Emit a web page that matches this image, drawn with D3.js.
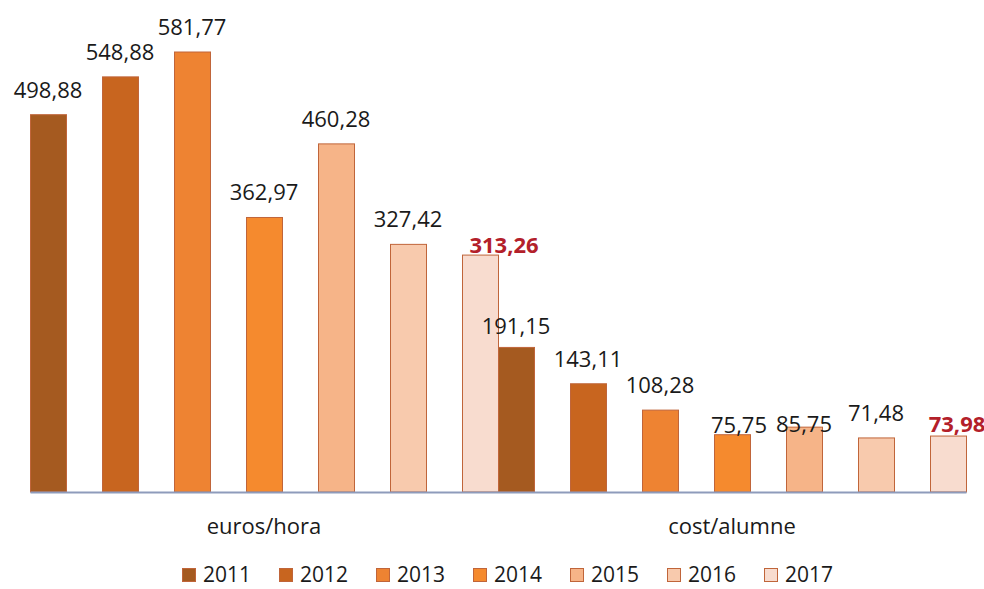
<!DOCTYPE html>
<html><head><meta charset="utf-8">
<script src="https://cdn.jsdelivr.net/npm/d3@7"></script>
<style>body{margin:0;background:#fff}svg{display:block}</style>
</head><body>
<svg id="c" width="984" height="589"></svg>
<script>
const categories = ["euros/hora", "cost/alumne"];
const years = ["2011","2012","2013","2014","2015","2016","2017"];
const valuesEurosHora = [498.88, 548.88, 581.77, 362.97, 460.28, 327.42, 313.26];
const valuesCostAlumne = [191.15, 143.11, 108.28, 75.75, 85.75, 71.48, 73.98];
const colors = ["#a55a20","#c8651f","#ee8332","#f58a2e","#f6b488","#f8caad","#f8dccf"];
// label nudges (layout, not data): [dx, dy] relative to default placement
const labelNudgeEuros = [[0,0],[0,0],[0,0],[0,0],[0,0],[0,0],[24,15]];
const labelNudgeCost = [[0,4],[0,0],[0,0],[7,15],[0,22],[0,0],[9,13]];

const series = [valuesEurosHora, valuesCostAlumne];
const nudges = [labelNudgeEuros, labelNudgeCost];

const svg = d3.select("#c");
const x0 = d3.scaleBand().domain(categories).range([30, 966]).padding(0);
const x1 = d3.scaleBand().domain(years).range([0, x0.bandwidth()]).paddingInner(0.5).paddingOuter(0);
const y = d3.scaleLinear().domain([0, 600]).range([492, 492 - 600*0.7563]);

const font = "'Open Sans', 'Noto Sans', sans-serif";

categories.forEach((cat, ci) => {
  const g = svg.append("g").attr("transform", `translate(${x0(cat)},0)`);
  years.forEach((yr, i) => {
    const v = series[ci][i];
    g.append("rect")
      .attr("x", x1(yr) + 0.5)
      .attr("y", y(v))
      .attr("width", x1.bandwidth())
      .attr("height", y(0) - y(v))
      .attr("fill", colors[i])
      .attr("stroke", "#c0653a")
      .attr("stroke-width", 1);
    const last = i === years.length - 1;
    const [dx, dy] = nudges[ci][i];
    g.append("text")
      .attr("x", x1(yr) + x1.bandwidth()/2 + dx)
      .attr("y", y(v) - 17 + dy)
      .attr("text-anchor", "middle")
      .attr("font-family", font)
      .attr("font-size", 22)
      .attr("font-weight", last ? "bold" : "normal")
      .attr("fill", last ? "#b3202a" : "#1a1a1a")
      .text(d3.format(".2f")(v).replace(".", ","));
  });
});

// axis baseline
const xAxis = d3.axisBottom(x0).tickSize(0).tickPadding(26);
const ax = svg.append("g").attr("transform", `translate(0,${y(0)})`).call(xAxis);
ax.select(".domain").attr("stroke", "#8e9bbb").attr("stroke-width", 2);
ax.selectAll("text").attr("font-family", font).attr("font-size", 22).attr("fill", "#1a1a1a");

// legend
const legend = svg.append("g").attr("transform", "translate(182,582)");
const step = 97;
years.forEach((yr, i) => {
  const lg = legend.append("g").attr("transform", `translate(${i*step},0)`);
  lg.append("rect").attr("x", 0.5).attr("y", -13.5).attr("width", 13).attr("height", 13)
    .attr("fill", colors[i]).attr("stroke", "#c0653a").attr("stroke-width", 1);
  lg.append("text").attr("x", 21).attr("y", 0).attr("font-family", font).attr("font-size", 21)
    .attr("fill", "#1a1a1a").text(yr);
});
</script>
</body></html>
